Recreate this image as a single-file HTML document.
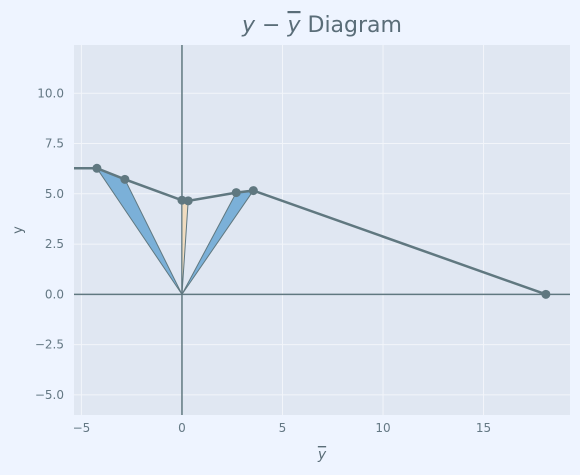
<!DOCTYPE html>
<html><head><meta charset="utf-8"><style>
body{margin:0;background:#eef4ff;}
svg{display:block;font-family:"DejaVu Sans","Liberation Sans",sans-serif;}
</style></head><body>
<svg id="c" width="580" height="475" viewBox="0 0 580 475">
<rect width="580" height="475" fill="#eef4ff"/>
<rect x="74" y="45" width="496" height="370" fill="#e0e7f2"/>
<g id="grid"></g><g id="marks"></g><g id="ticks"></g>
<text x="322" y="32" text-anchor="middle" font-size="22" fill="#5a6d78"><tspan font-style="italic">y</tspan> − <tspan font-style="italic" text-decoration="overline">y</tspan> Diagram</text>
<text x="322" y="459" text-anchor="middle" font-size="14" fill="#5a6d78" font-style="italic" text-decoration="overline">y</text>
<text x="22" y="230" text-anchor="middle" font-size="13" fill="#5a6d78" transform="rotate(-90 22 230)">y</text>
</svg>
<script>
const xTicks=[-5,0,5,10,15];
const yTicks=[-5,-2.5,0,2.5,5,7.5,10];
const ptX=[-4.23,-2.84,0.0,0.31,2.7,3.55,18.1];
const ptY=[6.27,5.72,4.68,4.65,5.06,5.16,0];
const wedgeColors=["#7bb0d8","#f0dcc0","#7bb0d8"];
const X0=-5.37,X1=19.3,Y0=-6.0,Y1=12.4;
const L=74,R=570,T=45,B=415;
const sx=v=>L+(v-X0)/(X1-X0)*(R-L);
const sy=v=>B-(v-Y0)/(Y1-Y0)*(B-T);
const NS="http://www.w3.org/2000/svg";
function mk(p,t,a){const e=document.createElementNS(NS,t);for(const k in a)e.setAttribute(k,a[k]);p.appendChild(e);return e;}
const grid=document.getElementById('grid'),marks=document.getElementById('marks'),ticks=document.getElementById('ticks');
xTicks.forEach(v=>{const l=mk(grid,'line',{x1:sx(v),x2:sx(v),y1:T,y2:B,stroke:'#f2f5fa','stroke-width':1});

const t=mk(ticks,'text',{x:sx(v),y:B+17,'text-anchor':'middle','font-size':12,fill:'#647884'});t.textContent=String(v).replace('-','−');
});
yTicks.forEach(v=>{const l=mk(grid,'line',{x1:L,x2:R,y1:sy(v),y2:sy(v),stroke:'#f2f5fa','stroke-width':1});

const t=mk(ticks,'text',{x:L-10,y:sy(v)+4,'text-anchor':'end','font-size':12,fill:'#647884'});t.textContent=v.toFixed(1).replace('-','−');
});
let a=mk(marks,'line',{x1:L,x2:R,y1:sy(0),y2:sy(0),stroke:'#607880','stroke-width':1.5});

a=mk(marks,'line',{x1:sx(0),x2:sx(0),y1:T,y2:B,stroke:'#607880','stroke-width':1.5});

for(let i=0;i<3;i++){const p=mk(marks,'polygon',{points:`${sx(0)},${sy(0)} ${sx(ptX[2*i])},${sy(ptY[2*i])} ${sx(ptX[2*i+1])},${sy(ptY[2*i+1])}`,fill:wedgeColors[i],stroke:'#607880','stroke-width':1});
}
let d=`M${L},${sy(ptY[0])}`;ptX.forEach((x,i)=>d+=` L${sx(x)},${sy(ptY[i])}`);
const pl=mk(marks,'path',{d:d,fill:'none',stroke:'#607880','stroke-width':2.5});

ptX.forEach((x,i)=>{const c=mk(marks,'circle',{cx:sx(x),cy:sy(ptY[i]),r:4.5,fill:'#607880'});
});
</script>
</body></html>
